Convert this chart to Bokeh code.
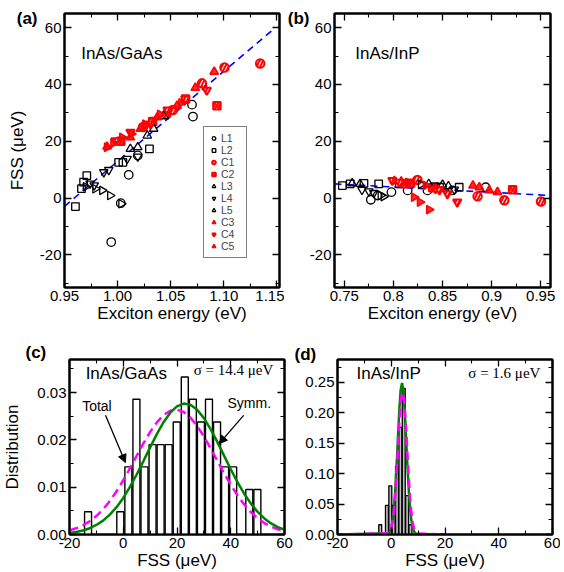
from bokeh.plotting import figure
from bokeh.models import (LinearAxis, FixedTicker, Range1d, Legend, LegendItem,
                          Arrow, NormalHead)
from bokeh.layouts import column, row
from bokeh.embed import file_html
from bokeh.resources import INLINE
from bokeh.core.properties import value

# ---------------- data ----------------
# panel (a) InAs/GaAs : exciton energy (eV) vs FSS (ueV)
a_L1_x = [1.0701, 1.0710, 1.0190, 1.0105, 1.0030, 0.9940]
a_L1_y = [32.9, 28.7, 15.0, 8.2, -1.8, -15.5]
a_L2_x = [1.0300, 1.0050, 1.0010, 0.9710, 0.9680, 0.9660, 0.9603]
a_L2_y = [17.3, 12.6, 12.6, 7.9, 5.6, 3.3, -3.0]
a_L3_x = [1.0440, 1.0340, 1.0280, 1.0190, 1.0120]
a_L3_y = [28.8, 24.4, 22.0, 17.9, 17.3]
a_L4_x = [1.0190, 1.0090, 0.9917, 0.9870, 0.9740, 0.9780]
a_L4_y = [14.6, 13.8, 9.9, 9.1, 5.1, 4.5]
a_L5_x = [0.9700, 0.9790, 0.9855, 0.9930, 1.0035]
a_L5_y = [4.0, 3.3, 2.7, 0.9, -2.0]
a_C1_x = [1.1343, 1.1007, 1.0795, 1.0520, 1.0240, 1.0460]
a_C1_y = [47.4, 46.0, 40.4, 31.0, 25.0, 29.5]
a_C2_x = [1.0936, 1.0640, 1.0030, 1.0330]
a_C2_y = [32.5, 34.9, 20.0, 27.0]
a_C3_x = [1.0910, 1.0732, 1.0560, 1.0372, 1.0215, 0.9901, 1.0120]
a_C3_y = [44.5, 38.8, 32.5, 28.4, 24.4, 18.1, 21.4]
a_C4_x = [1.0840, 1.0638, 1.0309, 1.0121, 0.9980, 1.0470]
a_C4_y = [38.0, 34.9, 26.1, 23.2, 20.2, 31.0]
a_C5_x = [0.9900, 0.9960, 1.0043, 1.0130, 1.0260, 1.0400, 1.0600]
a_C5_y = [17.9, 19.4, 21.4, 22.6, 26.0, 29.5, 33.5]
a_fit_x = [0.950, 1.147]
a_fit_y = [-2.9, 59.5]

# panel (b) InAs/InP
b_L1_x = [0.777, 0.784, 0.798, 0.8145, 0.8347, 0.860, 0.894]
b_L1_y = [-0.6, 0.9, 2.1, 2.7, 2.7, 2.7, 3.8]
b_L2_x = [0.748, 0.756, 0.770, 0.785, 0.806, 0.847, 0.867]
b_L2_y = [4.4, 5.0, 5.2, 5.0, 5.0, 3.8, 3.8]
b_L3_x = [0.758, 0.766, 0.836, 0.850, 0.856]
b_L3_y = [5.2, 5.0, 5.0, 4.7, 4.2]
b_L4_x = [0.768, 0.775, 0.780, 0.842, 0.862]
b_L4_y = [2.9, 2.4, 1.8, 4.5, 3.0]
b_L5_x = [0.787, 0.790, 0.828]
b_L5_y = [0.9, 0.5, 4.8]
b_C1_x = [0.8245, 0.8857, 0.9130, 0.9503]
b_C1_y = [6.4, 0.6, -0.8, -1.2]
b_C2_x = [0.8125, 0.8175, 0.9214, 0.8400]
b_C2_y = [5.0, 5.2, 2.9, 3.6]
b_C3_x = [0.881, 0.8875, 0.8976, 0.906, 0.801, 0.808]
b_C3_y = [4.4, 3.8, 2.7, 2.1, 6.0, 5.8]
b_C4_x = [0.799, 0.806, 0.843, 0.855, 0.865, 0.847]
b_C4_y = [6.2, 5.6, 3.3, 1.5, -1.4, 2.9]
b_C5_x = [0.821, 0.827, 0.8364, 0.833, 0.815]
b_C5_y = [0.3, -1.4, -4.1, 4.5, 5.5]
b_fit_x = [0.74, 0.96]
b_fit_y = [5.0, 0.9]

# panel (c) histogram InAs/GaAs
c_center = [-13.1, -1.1, 1.9, 4.9, 7.9, 10.9, 13.9, 16.9, 19.9, 22.9, 25.9, 28.9,
            31.9, 34.9, 37.9, 40.9, 46.9, 49.9]
c_density = [0.0048, 0.0048, 0.0143, 0.0286, 0.0143, 0.0190, 0.0190, 0.0190, 0.0238,
             0.0333, 0.0286, 0.0238, 0.0286, 0.0238, 0.0143, 0.0143, 0.0095, 0.0095]
c_bar_width = 2.6
curve_c_x = [-20, -17.5, -15, -12.5, -10, -7.5, -5, -2.5, 0, 2.5, 5, 7.5, 10, 12.5, 15,
             17.5, 20, 22.5, 25, 27.5, 30, 32.5, 35, 37.5, 40, 42.5, 45, 47.5, 50, 52.5,
             55, 57.5, 60]
c_symm_y = [0.00032, 0.00053, 0.00085, 0.00133, 0.00201, 0.00294, 0.00419, 0.00578,
            0.00774, 0.01006, 0.01268, 0.01552, 0.01843, 0.02123, 0.02374, 0.02575,
            0.02710, 0.02768, 0.02743, 0.02638, 0.02461, 0.02228, 0.01958, 0.01668,
            0.01380, 0.01107, 0.00862, 0.00652, 0.00478, 0.00340, 0.00235, 0.00157,
            0.00102]
c_total_y = [0.00086, 0.00131, 0.00194, 0.00280, 0.00391, 0.00534, 0.00708, 0.00913,
             0.01147, 0.01401, 0.01665, 0.01925, 0.02166, 0.02371, 0.02525, 0.02617,
             0.02639, 0.02589, 0.02471, 0.02294, 0.02073, 0.01822, 0.01559, 0.01297,
             0.01050, 0.00828, 0.00634, 0.00473, 0.00343, 0.00242, 0.00166, 0.00111,
             0.00072]

# panel (d) histogram InAs/InP
d_center = [-4.1, -1.6, -0.35, 0.9, 2.15, 3.4, 4.65, 5.9, 7.15]
d_density = [0.016, 0.048, 0.080, 0.048, 0.112, 0.176, 0.240, 0.064, 0.016]
d_bar_width = 1.1
curve_d_x = [-20, -1, -0.5, 0, 0.5, 1, 1.5, 2, 2.5, 3, 3.5, 4, 4.5, 5, 5.5, 6, 6.5, 7,
             7.5, 8, 8.5, 9, 9.5, 20]
d_symm_y = [0.0, 0.0019, 0.0048, 0.0109, 0.0228, 0.0429, 0.0735, 0.1140, 0.1605, 0.2048,
            0.2371, 0.2490, 0.2371, 0.2048, 0.1605, 0.1140, 0.0735, 0.0429, 0.0228,
            0.0109, 0.0048, 0.0019, 0.0007, 0.0]
d_total_y = [0.0, 0.0022, 0.0051, 0.0111, 0.0220, 0.0400, 0.0665, 0.1016, 0.1424, 0.1829,
             0.2156, 0.2331, 0.2311, 0.2101, 0.1752, 0.1340, 0.0940, 0.0605, 0.0357,
             0.0193, 0.0096, 0.0044, 0.0018, 0.0]

# ticks
a_xticks = [0.95, 1.00, 1.05, 1.10, 1.15]
a_xlabels = ["0.95", "1.00", "1.05", "1.10", "1.15"]
a_xminor = [0.975, 1.025, 1.075, 1.125]
b_xticks = [0.75, 0.80, 0.85, 0.90, 0.95]
b_xlabels = ["0.75", "0.8", "0.85", "0.9", "0.95"]
b_xminor = [0.775, 0.825, 0.875, 0.925]
fss_yticks = [-20, 0, 20, 40, 60]
fss_ylabels = ["-20", "0", "20", "40", "60"]
fss_yminor = [-30, -10, 10, 30, 50]
h_xticks = [-20, 0, 20, 40, 60]
h_xlabels = ["-20", "0", "20", "40", "60"]
h_xminor = [-10, 10, 30, 50]
c_yticks = [0.0, 0.01, 0.02, 0.03]
c_ylabels = ["0.00", "0.01", "0.02", "0.03"]
c_yminor = [0.005, 0.015, 0.025, 0.035]
d_yticks = [0.0, 0.05, 0.10, 0.15, 0.20, 0.25]
d_ylabels = ["0.00", "0.05", "0.10", "0.15", "0.20", "0.25"]
d_yminor = [0.025, 0.075, 0.125, 0.175, 0.225, 0.275]
# panel tag position (in FSS units, top-left of panels a/b)
tag_y = [63.2]

FONT = "Liberation Sans"
SERIF = "Liberation Serif"
RED = "#ff0000"


def style_axis(ax, ticks, labels, minor, show_labels=True):
    ax.ticker = FixedTicker(ticks=ticks, minor_ticks=minor)
    ax.major_tick_in = 7
    ax.major_tick_out = 0
    ax.minor_tick_in = 4
    ax.minor_tick_out = 0
    ax.major_tick_line_width = 1.3
    ax.minor_tick_line_width = 1.1
    ax.axis_line_width = 2
    ax.major_tick_line_color = "black"
    ax.minor_tick_line_color = "black"
    ax.axis_line_color = "black"
    if show_labels:
        ax.major_label_overrides = {t: l for t, l in zip(ticks, labels)}
        ax.major_label_text_font = FONT
        ax.major_label_text_font_size = "15px"
        ax.major_label_text_color = "black"
        ax.major_label_standoff = 3
    else:
        ax.major_label_overrides = {t: "" for t in ticks}
        ax.major_label_text_font_size = "0px"
        ax.major_label_standoff = 0
    ax.axis_label_text_font = FONT
    ax.axis_label_text_font_size = "17px"
    ax.axis_label_text_font_style = "normal"
    ax.axis_label_text_color = "black"
    ax.axis_label_standoff = 0


def tag_axis(p, tag, standoff, ylabel=None, ylabel_standoff=0):
    """Extra left axis, without line or ticks, whose only label is the panel tag."""
    ax = LinearAxis(ticker=FixedTicker(ticks=tag_y, minor_ticks=[]))
    ax.major_label_overrides = {tag_y[0]: tag}
    ax.axis_line_color = None
    ax.major_tick_line_color = None
    ax.minor_tick_line_color = None
    ax.major_tick_in = 0
    ax.major_tick_out = 0
    ax.minor_tick_in = 0
    ax.minor_tick_out = 0
    ax.major_label_text_font = FONT
    ax.major_label_text_font_size = "17px"
    ax.major_label_text_font_style = "bold"
    ax.major_label_text_color = "black"
    ax.major_label_standoff = standoff
    if ylabel:
        ax.axis_label = ylabel
        ax.axis_label_text_font = FONT
        ax.axis_label_text_font_size = "17px"
        ax.axis_label_text_font_style = "normal"
        ax.axis_label_text_color = "black"
        ax.axis_label_standoff = ylabel_standoff
    p.add_layout(ax, "left")


def make_fig(xr, yr, fw, fh, bl, br, bt, bb, xt, xl, xm, yt, yl, ym, xlabel):
    p = figure(x_range=Range1d(*xr), y_range=Range1d(*yr), frame_width=fw, frame_height=fh,
               min_border_left=bl, min_border_right=br, min_border_top=bt,
               min_border_bottom=bb, toolbar_location=None, output_backend="svg")
    p.grid.visible = False
    p.outline_line_color = "black"
    p.outline_line_width = 2
    p.background_fill_color = "white"
    p.border_fill_color = "white"
    style_axis(p.xaxis[0], xt, xl, xm)
    style_axis(p.yaxis[0], yt, yl, ym)
    p.xaxis[0].axis_label = xlabel
    ra = LinearAxis()
    style_axis(ra, yt, yl, ym, show_labels=False)
    p.add_layout(ra, "right")
    ta = LinearAxis()
    style_axis(ta, xt, xl, xm, show_labels=False)
    p.add_layout(ta, "above")
    return p


def set_title(p, txt, offset, standoff):
    p.title.text = txt
    p.title.align = "left"
    p.title.offset = offset
    p.title.standoff = standoff
    p.title.vertical_align = "bottom"
    p.title.text_font = FONT
    p.title.text_font_size = "17px"
    p.title.text_font_style = "bold"
    p.title.text_color = "black"


def scatter_series(p, series):
    rs = []
    sz = 8.5
    rs.append(("L1", p.scatter(series[0][0], series[0][1], marker="circle", size=sz,
                               fill_color=None, line_color="black", line_width=1.3)))
    rs.append(("L2", p.scatter(series[1][0], series[1][1], marker="square", size=sz - 1,
                               fill_color=None, line_color="black", line_width=1.3)))
    rs.append(("C1", p.scatter(series[2][0], series[2][1], marker="circle", size=sz,
                               fill_color="white", line_color=RED, line_width=2,
                               hatch_pattern="/", hatch_color=RED, hatch_weight=2,
                               hatch_scale=7)))
    rs.append(("C2", p.scatter(series[3][0], series[3][1], marker="square", size=sz - 1,
                               fill_color="white", line_color=RED, line_width=2,
                               hatch_pattern="/", hatch_color=RED, hatch_weight=2.5,
                               hatch_scale=6)))
    rs.append(("L3", p.scatter(series[4][0], series[4][1], marker="triangle", size=sz,
                               fill_color=None, line_color="black", line_width=1.3)))
    rs.append(("L4", p.scatter(series[5][0], series[5][1], marker="inverted_triangle",
                               size=sz, fill_color=None, line_color="black", line_width=1.3)))
    rs.append(("L5", p.scatter(series[6][0], series[6][1], marker="triangle", angle=-1.5708,
                               size=sz, fill_color=None, line_color="black", line_width=1.3)))
    rs.append(("C3", p.scatter(series[7][0], series[7][1], marker="triangle", size=sz,
                               fill_color=RED, fill_alpha=0.85, line_color=RED,
                               line_width=1.5)))
    rs.append(("C4", p.scatter(series[8][0], series[8][1], marker="inverted_triangle",
                               size=sz, fill_color="white", line_color=RED, line_width=2,
                               hatch_pattern="/", hatch_color=RED, hatch_weight=2,
                               hatch_scale=7)))
    rs.append(("C5", p.scatter(series[9][0], series[9][1], marker="triangle", angle=-1.5708,
                               size=sz, fill_color=RED, fill_alpha=0.85, line_color=RED,
                               line_width=1.5)))
    return rs


FSS_RANGE = (-31.5, 65)

# ---------------- panel (a) ----------------
pa = make_fig((0.95, 1.1525), FSS_RANGE, 215, 274, 64, 5, 13, 50,
              a_xticks, a_xlabels, a_xminor, fss_yticks, fss_ylabels, fss_yminor,
              "Exciton energy (eV)")
tag_axis(pa, "(a)", -1, "FSS (\u03bceV)", -13)
pa.line(a_fit_x, a_fit_y, line_color="#0000ff", line_width=1.6, line_dash="7 5")
rs_a = scatter_series(pa, [(a_L1_x, a_L1_y), (a_L2_x, a_L2_y), (a_C1_x, a_C1_y),
                           (a_C2_x, a_C2_y), (a_L3_x, a_L3_y), (a_L4_x, a_L4_y),
                           (a_L5_x, a_L5_y), (a_C3_x, a_C3_y), (a_C4_x, a_C4_y),
                           (a_C5_x, a_C5_y)])
leg = Legend(items=[LegendItem(label=n, renderers=[r]) for n, r in rs_a],
             location=(139, 29), orientation="vertical",
             label_text_font=FONT, label_text_font_size="10.5px",
             glyph_width=9, glyph_height=12, label_height=12, label_standoff=3,
             spacing=0, padding=5, margin=0,
             border_line_color="black", border_line_width=1,
             background_fill_color="white", background_fill_alpha=1)
pa.add_layout(leg, "center")
pa.text(x=[0.9657], y=[50.8], text=["InAs/GaAs"], text_font_size="17px",
        text_baseline="middle", text_align="left", text_color="black",
        text_font=value(FONT))

# ---------------- panel (b) ----------------
pb = make_fig((0.74, 0.96), FSS_RANGE, 216, 274, 48, 8, 13, 50,
              b_xticks, b_xlabels, b_xminor, fss_yticks, fss_ylabels, fss_yminor,
              "Exciton energy (eV)")
tag_axis(pb, "(b)", -3)
pb.line(b_fit_x, b_fit_y, line_color="#0000ff", line_width=1.6, line_dash="7 5")
scatter_series(pb, [(b_L1_x, b_L1_y), (b_L2_x, b_L2_y), (b_C1_x, b_C1_y),
                    (b_C2_x, b_C2_y), (b_L3_x, b_L3_y), (b_L4_x, b_L4_y),
                    (b_L5_x, b_L5_y), (b_C3_x, b_C3_y), (b_C4_x, b_C4_y),
                    (b_C5_x, b_C5_y)])
pb.text(x=[0.7612], y=[50.8], text=["InAs/InP"], text_font_size="17px",
        text_baseline="middle", text_align="left", text_color="black",
        text_font=value(FONT))

# ---------------- panel (c) ----------------
pc = make_fig((-20, 60), (0, 0.037), 215, 175, 64, 10, 22, 32,
              h_xticks, h_xlabels, h_xminor, c_yticks, c_ylabels, c_yminor,
              "FSS (\u03bceV)")
pc.yaxis[0].axis_label = "Distribution"
pc.yaxis[0].axis_label_standoff = 12
pc.xaxis[0].major_label_standoff = 1
pc.xaxis[0].axis_label_standoff = -6
pc.vbar(x=c_center, top=c_density, width=c_bar_width, bottom=0, fill_color="white",
        line_color="black", line_width=1.4)
pc.line(curve_c_x, c_total_y, line_color="#ff00ff", line_width=2.5, line_dash="9 5")
pc.line(curve_c_x, c_symm_y, line_color="#008000", line_width=2.5)
pc.add_layout(Arrow(end=NormalHead(size=8, fill_color="black", line_color="black"),
                    x_start=-6.6, y_start=0.0252, x_end=0.8, y_end=0.0152,
                    line_color="black", line_width=1.3))
pc.add_layout(Arrow(end=NormalHead(size=8, fill_color="black", line_color="black"),
                    x_start=44.8, y_start=0.0252, x_end=35.7, y_end=0.0192,
                    line_color="black", line_width=1.3))
pc.text(x=[-9.8, 46.9], y=[0.0271, 0.0279], text=["Total", "Symm."], text_font_size="14px",
        text_baseline="middle", text_align="center", text_color="black",
        text_font=value(FONT))
pc.text(x=[-14.0], y=[0.0340], text=["InAs/GaAs"], text_font_size="17px",
        text_baseline="middle", text_align="left", text_color="black",
        text_font=value(FONT))
pc.text(x=[55.8], y=[0.0347], text=["\u03c3 = 14.4 \u03bceV"], text_font_size="15px",
        text_baseline="middle", text_align="right", text_color="black",
        text_font=value(SERIF))
set_title(pc, "(c)", -44, -5)

# ---------------- panel (d) ----------------
pd_ = make_fig((-20, 60), (0, 0.2875), 215, 175, 43, 8, 22, 32,
               h_xticks, h_xlabels, h_xminor, d_yticks, d_ylabels, d_yminor,
               "FSS (\u03bceV)")
pd_.xaxis[0].major_label_standoff = 1
pd_.xaxis[0].axis_label_standoff = -6
pd_.vbar(x=d_center, top=d_density, width=d_bar_width, bottom=0, fill_color="#bdbdbd",
         line_color="black", line_width=1.3)
pd_.line(curve_d_x, d_symm_y, line_color="#008000", line_width=2.5)
pd_.line(curve_d_x, d_total_y, line_color="#ff00ff", line_width=2.5, line_dash="9 5")
pd_.text(x=[-12.9], y=[0.265], text=["InAs/InP"], text_font_size="17px",
         text_baseline="middle", text_align="left", text_color="black",
         text_font=value(FONT))
pd_.text(x=[55.5], y=[0.265], text=["\u03c3 = 1.6 \u03bceV"], text_font_size="15px",
         text_baseline="middle", text_align="right", text_color="black",
         text_font=value(SERIF))
set_title(pd_, "(d)", -43, -9)

layout = column(row(pa, pb), row(pc, pd_))
open("out.html", "w").write(file_html(layout, INLINE))
